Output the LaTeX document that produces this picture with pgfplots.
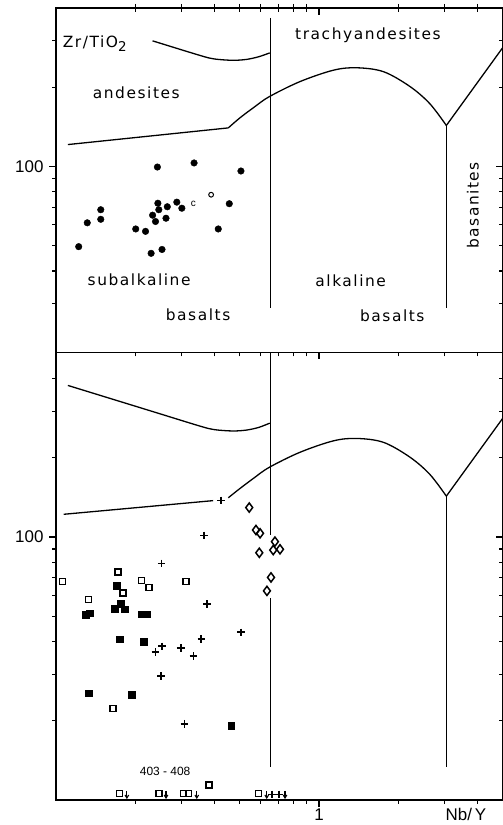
\documentclass[border=0pt]{standalone}
\usepackage{fontspec}
\setmainfont{DejaVu Sans}[LetterSpace=10.0]
\newfontfamily\tickfont{Liberation Sans}
\usepackage{pgfplots}
\pgfplotsset{compat=1.18}
\pgfdeclareplotmark{darrow}{%
 \pgfpathmoveto{\pgfqpoint{0pt}{3.5pt}}\pgfpathlineto{\pgfqpoint{0pt}{-3pt}}\pgfusepathqstroke
 \pgfpathmoveto{\pgfqpoint{-1.8pt}{-0.6pt}}\pgfpathlineto{\pgfqpoint{0pt}{-3.6pt}}\pgfpathlineto{\pgfqpoint{1.8pt}{-0.6pt}}\pgfusepathqstroke}
\newcommand\lab{\fontsize{15.5}{18}\selectfont}
\pgfplotsset{
 mypanel/.style={scale only axis, width=446.8bp,
   xmin=0.1, xmax=5, clip mode=individual,
   axis line style={line width=1.3bp},
   every tick/.style={line width=1.1bp, black},
   major tick length=7bp, minor tick length=4bp,
   ticklabel style={font=\tickfont\fontsize{17}{20}\selectfont},
   /pgf/number format/assume math mode=true,
   minor xtick={0.2,0.3,0.4,0.5,0.6,0.7,0.8,0.9,2,3,4},
   xtick={1},
 },
 myghost/.style={axis line style={draw=none}, tick align=inside,
   xticklabels={}, yticklabels={}, ytick pos=right, xtick pos=top},
 crv/.style={line width=1.3bp, black},
}
\begin{document}
\begin{tikzpicture}
\useasboundingbox (-56bp,-25bp) rectangle (447bp,800bp);
% ---------------- lower panel ----------------
\begin{loglogaxis}[mypanel, at={(0bp,0bp)}, anchor=south west, height=447.5bp, ymin=10, ymax=503,
  xticklabels={1}, ytick={100}, yticklabels={100},
  minor ytick={20,30,40,50,60,70,80,90,200,300,400},
  xtick pos=bottom, ytick pos=left, tick align=outside,
  yticklabel style={xshift=-2bp}, xticklabel style={yshift=2bp}]
\addplot[crv, smooth, tension=0.5] coordinates {(0.111,377)(0.233,300)(0.353,264)(0.40,256)(0.47,253)(0.53,255)(0.59,261)(0.65,271)};
\addplot[crv] coordinates {(0.107,122)(0.396,137.5)};
\addplot[crv, smooth, tension=0.55] coordinates {(0.452,141)(0.501,153)(0.563,167)(0.647,184)(0.847,210)(1.134,232)(1.39,237)(1.76,229)(2.22,201)(2.64,173)(3.05,143)};
\addplot[crv] coordinates {(3.05,143)(5,283)};
\addplot[crv] coordinates {(0.655,503)(0.655,102)};
\addplot[crv] coordinates {(0.655,58.5)(0.655,13.3)};
\addplot[crv] coordinates {(3.05,143)(3.05,13.3)};
% plus
\addplot[only marks, line width=1.7bp, mark=+, mark size=3.8bp] coordinates {(0.423,137.6)(0.365,101.3)(0.252,79.4)(0.376,55.5)(0.506,43.4)(0.357,41.0)(0.239,36.5)(0.253,38.4)(0.298,37.8)(0.333,35.2)(0.251,29.6)(0.308,19.5)(0.663,10.5)(0.705,10.5)};
% open squares
\addplot[only marks, line width=1.4bp, mark=square, mark size=3.0bp] coordinates {(0.1057,67.9)(0.172,73.5)(0.211,68.5)(0.226,64.3)(0.312,67.8)(0.180,61.3)(0.133,58.0)(0.165,22.3)(0.382,11.4)(0.174,10.57)(0.246,10.57)(0.305,10.57)(0.319,10.57)(0.590,10.57)};
% filled squares
\addplot[only marks, mark=square*, mark size=3.3bp] coordinates {(0.170,65.2)(0.130,50.7)(0.1346,51.4)(0.1676,53.4)(0.176,55.8)(0.183,53.1)(0.2105,50.8)(0.222,50.8)(0.175,40.8)(0.215,39.9)(0.1335,25.5)(0.194,25.1)(0.463,19.2)};
% diamonds
\addplot[only marks, line width=1.5bp, mark=diamond, mark size=4.6bp, mark options={fill=white}] coordinates {(0.543,129.4)(0.576,106.3)(0.597,103.3)(0.593,87.1)(0.680,96.0)(0.670,89.2)(0.711,89.8)(0.657,70.2)(0.634,62.4)};
% down arrows
\addplot[only marks, line width=1.1bp, mark=darrow] coordinates {(0.186,10.5)(0.262,10.5)(0.343,10.5)(0.633,10.5)(0.743,10.5)};
\node at (axis cs:0.26,12.8) {\tickfont\fontsize{12}{13}\selectfont 403 - 408};
\node[anchor=north, inner sep=0pt, yshift=-8.5bp] at (axis cs:3.62,10) {\tickfont\fontsize{17}{20}\selectfont Nb/\,Y};
\end{loglogaxis}
\begin{loglogaxis}[mypanel, myghost, at={(0bp,0bp)}, anchor=south west, height=447.5bp, ymin=10, ymax=503,
  ytick={100}, minor ytick={20,30,40,50,60,70,80,90,200,300,400}]
\end{loglogaxis}
% ---------------- upper panel ----------------
\begin{loglogaxis}[mypanel, at={(0bp,447.5bp)}, anchor=south west, height=344.5bp, ymin=19.6, ymax=400,
  xmajorticks=false, xminorticks=false, xticklabels={}, ytick={100}, yticklabels={100},
  minor ytick={30,40,50,60,70,80,90,200,300},
  ytick pos=left, tick align=outside,
  yticklabel style={xshift=-2bp}]
\addplot[crv, smooth, tension=0.5] coordinates {(0.233,300)(0.353,264)(0.40,256)(0.47,253)(0.53,255)(0.59,261)(0.65,270)};
\addplot[crv] coordinates {(0.111,121)(0.452,140)};
\addplot[crv, smooth, tension=0.55] coordinates {(0.452,140)(0.501,153)(0.563,167)(0.647,184)(0.847,210)(1.134,232)(1.39,237)(1.76,229)(2.22,201)(2.64,173)(3.05,143)};
\addplot[crv] coordinates {(3.05,143)(5,283)};
\addplot[crv] coordinates {(0.655,367)(0.655,29)};
\addplot[crv] coordinates {(3.05,143)(3.05,29)};
\addplot[only marks, mark=*, mark size=3.3bp] coordinates {(0.122,49.5)(0.1315,61.0)(0.148,68.4)(0.148,62.9)(0.243,99.4)(0.335,103)(0.505,96)(0.201,57.8)(0.219,56.6)(0.230,46.7)(0.253,48.3)(0.233,65.2)(0.239,61.7)(0.244,72.4)(0.246,68.4)(0.262,63.5)(0.265,70.2)(0.288,73.1)(0.301,69.3)(0.414,57.8)(0.456,72.1)};
\addplot[only marks, line width=1bp, mark=o, mark size=2.4bp] coordinates {(0.389,78)};
\node at (axis cs:0.333,72) {\tickfont\fontsize{10}{10}\selectfont c};
\node[anchor=west, inner sep=0pt] at (axis cs:0.106,292) {\lab Zr/TiO\raisebox{-0.5ex}{\fontsize{13.5}{13}\selectfont 2}};
\node at (axis cs:0.202,190) {\lab andesites};
\node at (axis cs:1.535,316) {\lab trachyandesites};
\node at (axis cs:0.207,37) {\lab subalkaline};
\node at (axis cs:0.347,27.2) {\lab basalts};
\node at (axis cs:1.32,36.7) {\lab alkaline};
\node at (axis cs:1.90,27.0) {\lab basalts};
\node[rotate=90] at (axis cs:3.85,71) {\lab basanites};
\end{loglogaxis}
\begin{loglogaxis}[mypanel, myghost, at={(0bp,447.5bp)}, anchor=south west, height=344.5bp, ymin=19.6, ymax=400,
  ytick={100}, minor ytick={30,40,50,60,70,80,90,200,300}]
\end{loglogaxis}
\end{tikzpicture}
\end{document}
